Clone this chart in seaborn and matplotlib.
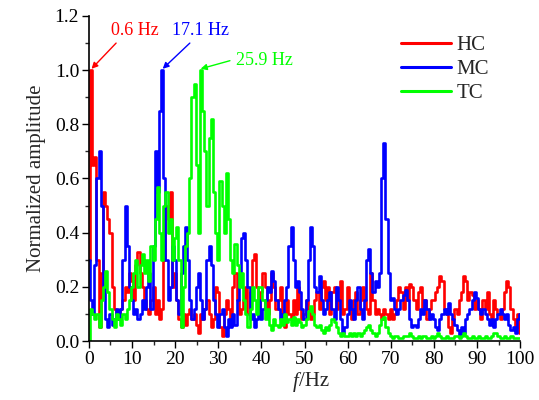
import numpy as np
import pandas as pd
import matplotlib
matplotlib.use("Agg")
import matplotlib.pyplot as plt
import seaborn as sns

# frequency grid (Hz)
freq = [i * 0.5 for i in range(201)]

hc = [
    0.30, 1.00, 0.65, 0.68, 0.30, 0.05, 0.25, 0.55, 0.50, 0.45, 0.40, 0.20, 0.12, 0.08, 0.10, 0.12, 0.15, 0.20, 0.18, 0.25,
    0.22, 0.15, 0.28, 0.33, 0.25, 0.20, 0.15, 0.12, 0.10, 0.15, 0.20, 0.10, 0.15, 0.08, 0.12, 0.30, 0.50, 0.45, 0.55, 0.20,
    0.25, 0.15, 0.08, 0.05, 0.10, 0.06, 0.10, 0.12, 0.08, 0.10, 0.06, 0.03, 0.10, 0.08, 0.12, 0.15, 0.10, 0.05, 0.08, 0.20,
    0.18, 0.05, 0.02, 0.10, 0.15, 0.12, 0.08, 0.20, 0.25, 0.15, 0.10, 0.12, 0.15, 0.20, 0.10, 0.18, 0.30, 0.32, 0.20, 0.10,
    0.18, 0.25, 0.20, 0.10, 0.15, 0.25, 0.20, 0.12, 0.15, 0.20, 0.10, 0.05, 0.15, 0.10, 0.08, 0.15, 0.10, 0.20, 0.12, 0.08,
    0.10, 0.15, 0.12, 0.08, 0.10, 0.15, 0.18, 0.12, 0.20, 0.22, 0.15, 0.20, 0.10, 0.18, 0.20, 0.12, 0.15, 0.22, 0.10, 0.12,
    0.20, 0.12, 0.08, 0.15, 0.18, 0.10, 0.15, 0.20, 0.15, 0.12, 0.10, 0.25, 0.15, 0.10, 0.12, 0.10, 0.08, 0.12, 0.10, 0.08,
    0.12, 0.08, 0.10, 0.15, 0.20, 0.18, 0.12, 0.20, 0.15, 0.21, 0.20, 0.15, 0.12, 0.18, 0.20, 0.12, 0.15, 0.08, 0.12, 0.15,
    0.15, 0.18, 0.20, 0.24, 0.22, 0.12, 0.10, 0.05, 0.03, 0.08, 0.12, 0.10, 0.15, 0.18, 0.24, 0.22, 0.15, 0.18, 0.17, 0.12,
    0.15, 0.12, 0.08, 0.15, 0.12, 0.18, 0.10, 0.08, 0.15, 0.12, 0.10, 0.08, 0.12, 0.18, 0.22, 0.20, 0.12, 0.08, 0.05, 0.10,
    0.03,
]

mc = [
    0.30, 0.15, 0.10, 0.28, 0.60, 0.70, 0.50, 0.20, 0.08, 0.05, 0.10, 0.06, 0.08, 0.12, 0.08, 0.12, 0.30, 0.50, 0.35, 0.20,
    0.15, 0.10, 0.12, 0.08, 0.10, 0.15, 0.12, 0.20, 0.25, 0.12, 0.35, 0.70, 0.55, 0.85, 1.00, 0.60, 0.30, 0.15, 0.20, 0.35,
    0.30, 0.15, 0.10, 0.25, 0.35, 0.42, 0.30, 0.15, 0.08, 0.12, 0.20, 0.25, 0.15, 0.08, 0.12, 0.30, 0.35, 0.28, 0.15, 0.10,
    0.05, 0.10, 0.12, 0.05, 0.02, 0.08, 0.05, 0.10, 0.06, 0.15, 0.25, 0.38, 0.40, 0.30, 0.20, 0.08, 0.10, 0.05, 0.08, 0.15,
    0.08, 0.12, 0.15, 0.20, 0.18, 0.26, 0.22, 0.15, 0.12, 0.08, 0.10, 0.15, 0.20, 0.35, 0.42, 0.30, 0.20, 0.22, 0.18, 0.12,
    0.08, 0.15, 0.30, 0.42, 0.35, 0.20, 0.18, 0.24, 0.15, 0.10, 0.12, 0.15, 0.18, 0.12, 0.08, 0.20, 0.15, 0.08, 0.03, 0.05,
    0.10, 0.15, 0.12, 0.08, 0.15, 0.20, 0.12, 0.08, 0.15, 0.30, 0.34, 0.25, 0.18, 0.22, 0.20, 0.25, 0.60, 0.73, 0.45, 0.25,
    0.15, 0.16, 0.12, 0.10, 0.12, 0.15, 0.17, 0.19, 0.15, 0.08, 0.05, 0.06, 0.05, 0.08, 0.12, 0.10, 0.15, 0.12, 0.08, 0.10,
    0.08, 0.05, 0.04, 0.08, 0.10, 0.12, 0.10, 0.14, 0.10, 0.08, 0.06, 0.04, 0.02, 0.05, 0.03, 0.08, 0.10, 0.12, 0.15, 0.18,
    0.16, 0.12, 0.10, 0.12, 0.10, 0.08, 0.06, 0.08, 0.05, 0.08, 0.10, 0.12, 0.10, 0.08, 0.10, 0.06, 0.04, 0.05, 0.03, 0.08,
    0.10,
]

tc = [
    0.00, 0.12, 0.10, 0.08, 0.10, 0.05, 0.15, 0.20, 0.26, 0.18, 0.12, 0.08, 0.05, 0.10, 0.08, 0.06, 0.10, 0.08, 0.12, 0.15,
    0.20, 0.25, 0.30, 0.20, 0.28, 0.32, 0.25, 0.30, 0.22, 0.35, 0.30, 0.45, 0.57, 0.40, 0.30, 0.50, 0.55, 0.40, 0.45, 0.30,
    0.38, 0.42, 0.30, 0.05, 0.20, 0.35, 0.40, 0.60, 0.90, 0.95, 0.65, 0.40, 1.00, 0.85, 0.70, 0.50, 0.75, 0.82, 0.55, 0.40,
    0.30, 0.59, 0.50, 0.40, 0.62, 0.45, 0.30, 0.25, 0.36, 0.28, 0.20, 0.25, 0.15, 0.10, 0.05, 0.12, 0.20, 0.15, 0.10, 0.20,
    0.20, 0.15, 0.08, 0.12, 0.06, 0.04, 0.08, 0.06, 0.05, 0.08, 0.06, 0.10, 0.07, 0.08, 0.06, 0.09, 0.06, 0.08, 0.07, 0.05,
    0.06, 0.08, 0.11, 0.13, 0.10, 0.06, 0.05, 0.06, 0.04, 0.03, 0.05, 0.04, 0.06, 0.08, 0.07, 0.05, 0.03, 0.02, 0.03, 0.02,
    0.02, 0.03, 0.02, 0.03, 0.02, 0.03, 0.02, 0.03, 0.04, 0.05, 0.06, 0.04, 0.03, 0.02, 0.03, 0.06, 0.08, 0.09, 0.05, 0.03,
    0.02, 0.01, 0.02, 0.02, 0.01, 0.01, 0.02, 0.02, 0.02, 0.03, 0.02, 0.01, 0.01, 0.02, 0.01, 0.02, 0.02, 0.01, 0.01, 0.02,
    0.01, 0.02, 0.03, 0.02, 0.01, 0.01, 0.02, 0.01, 0.01, 0.01, 0.02, 0.02, 0.01, 0.02, 0.03, 0.02, 0.01, 0.01, 0.02, 0.01,
    0.01, 0.02, 0.01, 0.01, 0.02, 0.01, 0.01, 0.02, 0.03, 0.03, 0.02, 0.01, 0.01, 0.02, 0.01, 0.01, 0.02, 0.01, 0.01, 0.01,
    0.01,
]

series_names = ["HC", "MC", "TC"]
series_colors = ["#FF0000", "#0000FF", "#00FF00"]
peak_labels = ["0.6 Hz", "17.1 Hz", "25.9 Hz"]
peak_freqs = [0.6, 17.1, 25.9]
x_ticks = [0, 10, 20, 30, 40, 50, 60, 70, 80, 90, 100]
y_ticks = [0.0, 0.2, 0.4, 0.6, 0.8, 1.0, 1.2]

df = pd.concat([
    pd.DataFrame({"f": freq, "amp": vals, "group": name})
    for name, vals in zip(series_names, [hc, mc, tc])
], ignore_index=True)

sns.set_theme(style="ticks")
plt.rcParams["font.family"] = ["Liberation Serif", "DejaVu Serif"]

fig = plt.figure(figsize=(5.39, 4.0), dpi=100)
ax = fig.add_axes([0.165, 0.1475, 0.8, 0.8125])

sns.lineplot(data=df, x="f", y="amp", hue="group", hue_order=series_names,
             palette=series_colors, linewidth=1.9, drawstyle="steps-mid",
             estimator=None, ax=ax, legend=True)

ax.set_xlim(0, 100)
ax.set_ylim(0, 1.2)
ax.set_xticks(x_ticks)
ax.set_yticks(y_ticks)
ax.set_xticklabels([str(t) for t in x_ticks])
ax.set_yticklabels([f"{t:.1f}" for t in y_ticks])
ax.xaxis.set_minor_locator(matplotlib.ticker.MultipleLocator(5))
ax.yaxis.set_minor_locator(matplotlib.ticker.MultipleLocator(0.1))
ax.tick_params(axis="both", which="major", direction="out", length=5, width=1,
               labelsize=14, colors="black", pad=2)
ax.tick_params(axis="both", which="minor", direction="out", length=3, width=1)
for s in ["top", "right"]:
    ax.spines[s].set_visible(False)
for s in ["left", "bottom"]:
    ax.spines[s].set_linewidth(1.2)
    ax.spines[s].set_color("black")

ax.set_xlabel("")
ax.set_ylabel("Normalized amplitude", fontsize=15, labelpad=6)

# x label with italic f
lab_y = -0.095
ax.text(0.487, lab_y, "f", style="italic", fontsize=15, transform=ax.transAxes,
        ha="right", va="top")
ax.text(0.487, lab_y, "/Hz", fontsize=15, transform=ax.transAxes,
        ha="left", va="top")

leg = ax.legend(loc="upper left", bbox_to_anchor=(0.705, 0.965), frameon=False,
                fontsize=15, handlelength=2.4, handletextpad=0.25,
                labelspacing=0.2, borderaxespad=0)
for line in leg.get_lines():
    line.set_linewidth(2.2)

# peak annotations
ann_text_pos = [(10.7, 1.145), (25.8, 1.145), (40.6, 1.035)]
ann_tail = [(6.3, 1.10), (23.4, 1.10), (32.7, 1.035)]
for lab, pf, col, tp, tail in zip(peak_labels, peak_freqs, series_colors,
                                   ann_text_pos, ann_tail):
    ax.text(tp[0], tp[1], lab, color=col, fontsize=13, ha="center", va="center")
    ax.annotate("", xy=(pf, 1.005), xytext=tail,
                arrowprops=dict(arrowstyle="-|>", color=col, lw=1.0,
                                mutation_scale=9, shrinkA=0, shrinkB=0))

fig.savefig("out.png", dpi=100)
